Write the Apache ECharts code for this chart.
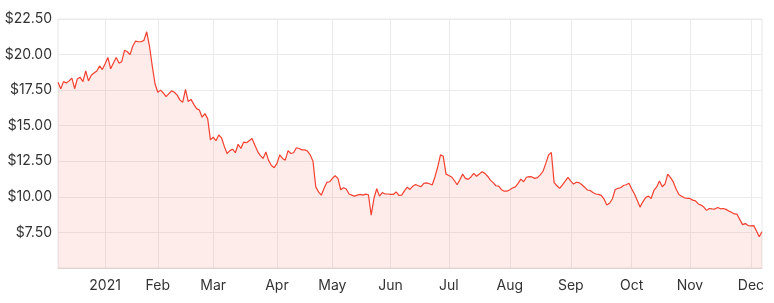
<!DOCTYPE html>
<html><head><meta charset="utf-8">
<script src="https://cdn.jsdelivr.net/npm/echarts/dist/echarts.min.js"></script>
<style>html,body{margin:0;padding:0;background:#fff}#c{width:774px;height:303px}</style>
</head><body><div id="c"></div>
<script>
// Trading days (category axis)
const dates = [
"2020-12-07","2020-12-08","2020-12-09","2020-12-10","2020-12-11","2020-12-14","2020-12-15","2020-12-16","2020-12-17","2020-12-18","2020-12-21","2020-12-22","2020-12-23","2020-12-24","2020-12-29","2020-12-30","2020-12-31",
"2021-01-04","2021-01-05","2021-01-06","2021-01-07","2021-01-08","2021-01-11","2021-01-12","2021-01-13","2021-01-14","2021-01-15","2021-01-18","2021-01-19","2021-01-20","2021-01-21","2021-01-22","2021-01-25","2021-01-27","2021-01-28","2021-01-29",
"2021-02-01","2021-02-02","2021-02-03","2021-02-04","2021-02-05","2021-02-08","2021-02-09","2021-02-10","2021-02-11","2021-02-12","2021-02-15","2021-02-16","2021-02-17","2021-02-18","2021-02-19","2021-02-22","2021-02-23","2021-02-24","2021-02-25","2021-02-26",
"2021-03-01","2021-03-02","2021-03-03","2021-03-04","2021-03-05","2021-03-08","2021-03-09","2021-03-10","2021-03-11","2021-03-12","2021-03-15","2021-03-16","2021-03-17","2021-03-18","2021-03-19","2021-03-22","2021-03-23","2021-03-24","2021-03-25","2021-03-26","2021-03-29","2021-03-30","2021-03-31",
"2021-04-01","2021-04-06","2021-04-07","2021-04-08","2021-04-09","2021-04-12","2021-04-13","2021-04-14","2021-04-15","2021-04-16","2021-04-19","2021-04-20","2021-04-21","2021-04-22","2021-04-23","2021-04-26","2021-04-27","2021-04-28","2021-04-29","2021-04-30",
"2021-05-03","2021-05-04","2021-05-05","2021-05-06","2021-05-07","2021-05-10","2021-05-11","2021-05-12","2021-05-13","2021-05-14","2021-05-17","2021-05-18","2021-05-19","2021-05-20","2021-05-21","2021-05-24","2021-05-25","2021-05-26","2021-05-27","2021-05-28","2021-05-31",
"2021-06-01","2021-06-02","2021-06-03","2021-06-04","2021-06-07","2021-06-08","2021-06-09","2021-06-10","2021-06-11","2021-06-15","2021-06-16","2021-06-17","2021-06-18","2021-06-21","2021-06-22","2021-06-23","2021-06-24","2021-06-25","2021-06-28","2021-06-29","2021-06-30",
"2021-07-01","2021-07-02","2021-07-05","2021-07-06","2021-07-07","2021-07-08","2021-07-09","2021-07-12","2021-07-13","2021-07-14","2021-07-15","2021-07-16","2021-07-19","2021-07-20","2021-07-21","2021-07-22","2021-07-23","2021-07-26","2021-07-27","2021-07-28","2021-07-29","2021-07-30",
"2021-08-02","2021-08-03","2021-08-04","2021-08-05","2021-08-06","2021-08-09","2021-08-10","2021-08-11","2021-08-12","2021-08-13","2021-08-16","2021-08-17","2021-08-18","2021-08-19","2021-08-20","2021-08-23","2021-08-24","2021-08-25","2021-08-26","2021-08-27","2021-08-30","2021-08-31",
"2021-09-01","2021-09-02","2021-09-03","2021-09-06","2021-09-07","2021-09-08","2021-09-09","2021-09-10","2021-09-13","2021-09-14","2021-09-15","2021-09-16","2021-09-17","2021-09-20","2021-09-21","2021-09-22","2021-09-23","2021-09-24","2021-09-27","2021-09-28","2021-09-29","2021-09-30",
"2021-10-01","2021-10-04","2021-10-05","2021-10-06","2021-10-07","2021-10-08","2021-10-11","2021-10-12","2021-10-13","2021-10-14","2021-10-15","2021-10-18","2021-10-19","2021-10-20","2021-10-21","2021-10-22","2021-10-25","2021-10-26","2021-10-27","2021-10-28","2021-10-29",
"2021-11-01","2021-11-02","2021-11-03","2021-11-04","2021-11-05","2021-11-08","2021-11-09","2021-11-10","2021-11-11","2021-11-12","2021-11-15","2021-11-16","2021-11-17","2021-11-18","2021-11-19","2021-11-22","2021-11-23","2021-11-24","2021-11-25","2021-11-26","2021-11-29","2021-11-30",
"2021-12-01","2021-12-02","2021-12-03","2021-12-06","2021-12-07"
];

// Closing prices (AUD)
const prices = [
18.05,17.6,18.1,18.0,18.15,18.35,17.6,18.3,18.4,18.1,
18.85,18.15,18.55,18.7,18.85,19.2,18.95,19.35,19.8,19.0,
19.4,19.8,19.4,19.5,20.3,20.2,20.0,20.6,20.95,20.9,
20.9,21.0,21.6,20.6,19.2,17.95,17.35,17.5,17.3,17.05,
17.25,17.45,17.35,17.15,16.8,16.65,17.55,16.7,16.85,16.5,
16.2,16.1,15.6,15.85,15.5,14.0,14.2,13.95,14.35,14.15,
13.55,13.05,13.25,13.35,13.1,13.7,13.4,13.85,13.8,13.95,
14.1,13.65,13.2,12.9,12.7,13.15,12.55,12.2,12.05,12.35,
12.95,12.7,12.58,13.25,13.05,13.1,13.45,13.4,13.3,13.3,
13.22,12.95,12.5,10.7,10.35,10.12,10.6,11.02,11.06,11.3,
11.48,11.3,10.5,10.64,10.55,10.2,10.12,10.05,10.12,10.17,
10.12,10.19,10.15,8.72,9.9,10.57,10.05,10.3,10.2,10.2,
10.18,10.17,10.35,10.1,10.12,10.42,10.68,10.52,10.75,10.87,
10.78,10.72,10.95,10.98,10.92,10.83,11.4,12.1,12.95,12.85,
11.6,11.5,11.4,11.15,10.85,11.2,11.6,11.3,11.23,11.4,
11.65,11.45,11.6,11.76,11.65,11.45,11.18,11.0,10.78,10.75,
10.5,10.4,10.4,10.5,10.62,10.7,10.95,11.25,11.06,11.38,
11.42,11.4,11.3,11.35,11.55,11.8,12.35,12.95,13.12,11.0,
10.78,10.6,10.85,11.1,11.37,11.1,10.9,11.02,11.0,10.85,
10.68,10.48,10.45,10.3,10.2,10.17,10.1,9.85,9.42,9.55,
9.85,10.5,10.6,10.64,10.8,10.85,10.95,10.55,10.2,9.75,
9.28,9.65,9.95,10.05,9.88,10.45,10.7,11.12,10.71,10.9,
11.6,11.35,11.05,10.55,10.17,10.05,9.93,9.9,9.89,9.77,
9.72,9.5,9.42,9.28,9.05,9.18,9.15,9.14,9.25,9.16,
9.18,9.12,9.0,8.92,8.8,8.78,8.4,8.05,8.12,7.98,
7.96,7.98,7.6,7.2,7.55
];

// Month tick labels (first trading day of each month)
const monthLabels = ["2021","Feb","Mar","Apr","May","Jun","Jul","Aug","Sep","Oct","Nov","Dec"];

const tickIdx = [];
for (let i = 1; i < dates.length; i++) {
  if (dates[i].slice(0, 7) !== dates[i - 1].slice(0, 7)) tickIdx.push(i);
}
const isTick = (i) => tickIdx.indexOf(i) >= 0;

const FONT = "Inter";
const chart = echarts.init(document.getElementById('c'), null, {renderer: 'canvas'});
chart.setOption({
  animation: false,
  backgroundColor: '#ffffff',
  grid: {left: 58, right: 12, top: 19, bottom: 35, show: true, borderColor: '#e6e6e6', borderWidth: 1},
  xAxis: {
    type: 'category',
    data: dates,
    boundaryGap: false,
    axisLine: {show: true, lineStyle: {color: '#e3d3d3', width: 1}},
    axisTick: {show: false},
    axisLabel: {
      interval: (i) => isTick(i),
      formatter: (v, i) => monthLabels[tickIdx.indexOf(i)],
      color: '#333333', fontFamily: FONT, fontSize: 14, margin: 11
    },
    splitLine: {show: true, interval: (i) => isTick(i), lineStyle: {color: '#ebebeb', width: 1}}
  },
  yAxis: {
    type: 'value',
    min: 5, max: 22.5, interval: 2.5,
    axisLine: {show: false},
    axisTick: {show: false},
    axisLabel: {
      showMinLabel: false,
      formatter: (v) => '$' + v.toFixed(2),
      color: '#333333', fontFamily: FONT, fontSize: 14, margin: 6
    },
    splitLine: {show: true, lineStyle: {color: '#ebebeb', width: 1}}
  },
  series: [{
    type: 'line',
    data: prices,
    showSymbol: false,
    symbol: 'none',
    lineStyle: {color: '#f4402f', width: 1.2},
    areaStyle: {color: 'rgba(244,64,47,0.145)'}
  }]
});
</script>
</body></html>
